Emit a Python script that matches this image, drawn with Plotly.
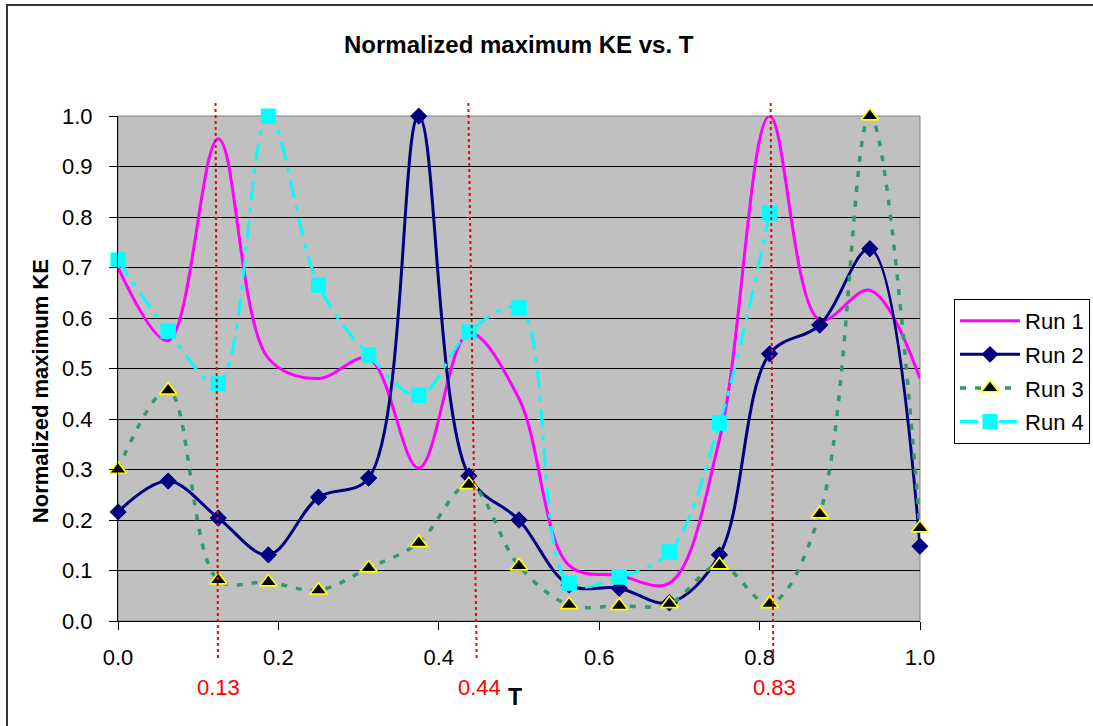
import plotly.graph_objects as go

T = [0.0, 0.0625, 0.125, 0.1875, 0.25, 0.3125, 0.375, 0.4375, 0.5,
     0.5625, 0.625, 0.6875, 0.75, 0.8125, 0.875, 0.9375, 1.0]

run1 = [0.70, 0.555, 0.955, 0.52, 0.48, 0.52, 0.303, 0.57, 0.44,
        0.11, 0.09, 0.075, 0.36, 1.0, 0.596, 0.655, 0.48]
run2 = [0.216, 0.277, 0.204, 0.131, 0.245, 0.283, 1.0, 0.287, 0.20,
        0.071, 0.065, 0.036, 0.131, 0.529, 0.586, 0.737, 0.148]
run3 = [0.30, 0.457, 0.081, 0.077, 0.061, 0.105, 0.155, 0.27, 0.109,
        0.032, 0.03, 0.034, 0.111, 0.034, 0.212, 1.0, 0.184]
T4 = T[:14]
run4 = [0.715, 0.574, 0.47, 1.0, 0.665, 0.527, 0.447, 0.572, 0.62,
        0.075, 0.087, 0.137, 0.392, 0.808]

marks_label = ["0.13", "0.44", "0.83"]
marks_top = [0.1216, 0.4368, 0.8138]
marks_bottom = [0.1247, 0.4473, 0.817]
marks_label_x = [0.1247, 0.451, 0.819]

FONT = "Arial, Liberation Sans, sans-serif"

fig = go.Figure()

series = [
    ("Run 1", T, run1, dict(color="#FF00FF", width=3, dash="solid"), None),
    ("Run 2", T, run2, dict(color="#000080", width=3, dash="solid"),
     dict(symbol="diamond", size=13, color="#000080", line=dict(width=0))),
    ("Run 3", T, run3, dict(color="#339966", width=3.5, dash="6px,9px"),
     dict(symbol="triangle-up", size=15, color="black", line=dict(color="#FFFF00", width=1.5))),
    ("Run 4", T4, run4, dict(color="#00FFFF", width=3, dash="18px,8px,5px,8px"),
     dict(symbol="square", size=15, color="#00FFFF", line=dict(width=0))),
]

for i, (name, xs, ys, line, marker) in enumerate(series):
    mode = "lines" if marker is None else "lines+markers"
    kw = dict(marker=marker) if marker else {}
    fig.add_trace(go.Scatter(x=xs, y=ys, name=name, mode=mode, line=dict(shape="spline", smoothing=1.0, **line),
                             cliponaxis=True, legendgroup=name, **kw))
    if marker:
        fig.add_trace(go.Scatter(x=xs, y=ys, mode="markers", marker=marker, cliponaxis=False,
                                 showlegend=False, legendgroup=name, hoverinfo="skip"))

# chart outer border
fig.add_shape(type="rect", xref="paper", yref="paper", x0=-0.1384, x1=1.3, y0=-0.3, y1=1.2198,
              line=dict(color="#333333", width=2), layer="below")
# plot area border
fig.add_shape(type="rect", xref="paper", yref="paper", x0=0, x1=1, y0=0, y1=1,
              line=dict(color="#808080", width=1), layer="below")

for lab, xt, xb, xl in zip(marks_label, marks_top, marks_bottom, marks_label_x):
    fig.add_shape(type="line", xref="x", yref="paper", x0=xt, x1=xb, y0=1.0257, y1=-0.077,
                  line=dict(color="#FF0000", width=2, dash="dot"))
    fig.add_annotation(x=xl, y=-0.1307, xref="x", yref="paper", text=lab, showarrow=False,
                       xanchor="center", yanchor="middle",
                       font=dict(family=FONT, size=22, color="#FF0000"))

fig.add_annotation(x=0.4994, y=1.1406, xref="paper", yref="paper", text="<b>Normalized maximum KE vs. T</b>",
                   showarrow=False, xanchor="center", yanchor="middle",
                   font=dict(family=FONT, size=24, color="black"))
fig.add_annotation(x=0.495, y=-0.150, xref="paper", yref="paper", text="<b>T</b>",
                   showarrow=False, xanchor="center", yanchor="middle",
                   font=dict(family=FONT, size=23, color="black"))
fig.add_annotation(x=-0.0973, y=0.455, xref="paper", yref="paper", text="<b>Normalized maximum KE</b>",
                   textangle=-90, showarrow=False, xanchor="center", yanchor="middle",
                   font=dict(family=FONT, size=22, color="black"))

fig.update_layout(
    width=1093, height=726,
    margin=dict(l=118, r=173, t=116, b=105, autoexpand=False),
    paper_bgcolor="white", plot_bgcolor="#C0C0C0",
    font=dict(family=FONT, size=22, color="black"),
    showlegend=True,
    legend=dict(x=1.0424, y=0.6377, xanchor="left", yanchor="top",
                bgcolor="white", bordercolor="black", borderwidth=1,
                font=dict(family=FONT, size=22, color="black"),
                traceorder="grouped", tracegroupgap=2, itemwidth=60),
    xaxis=dict(range=[0, 1], tickvals=[0, 0.2, 0.4, 0.6, 0.8, 1.0],
               ticktext=["0.0", "0.2", "0.4", "0.6", "0.8", "1.0"],
               showgrid=False, zeroline=False, showline=True, linecolor="black", linewidth=1,
               ticks="outside", ticklen=8, tickcolor="black", ticklabelstandoff=9,
               tickfont=dict(family=FONT, size=22)),
    yaxis=dict(range=[0, 1], tickvals=[i / 10 for i in range(11)],
               ticktext=[f"{i/10:.1f}" for i in range(11)],
               showgrid=True, gridcolor="black", gridwidth=1, zeroline=False,
               showline=True, linecolor="black", linewidth=1,
               ticks="outside", ticklen=8, tickcolor="black", ticklabelstandoff=12,
               tickfont=dict(family=FONT, size=22)),
)

fig.write_html("out.html")
